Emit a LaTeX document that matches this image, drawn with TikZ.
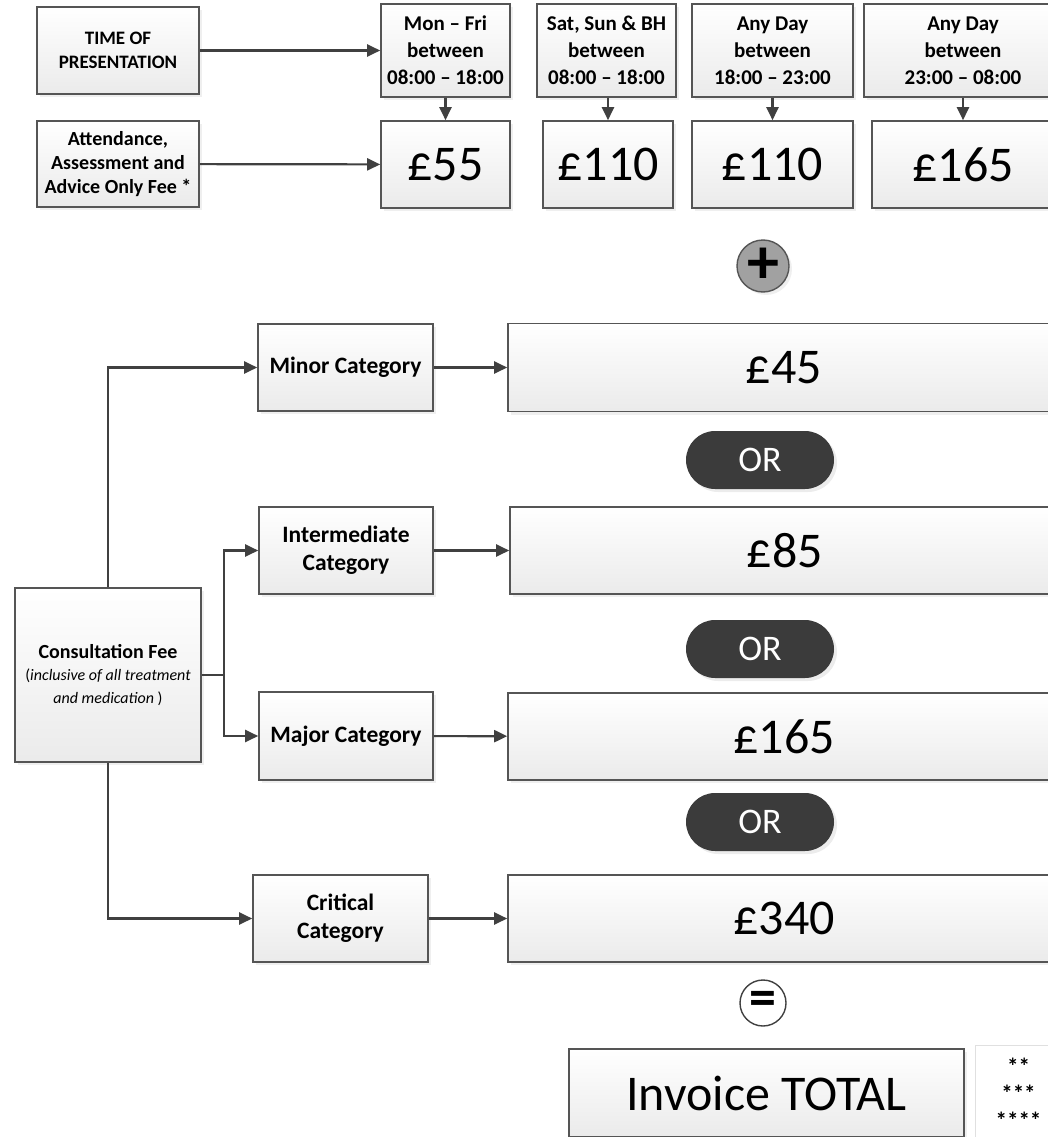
\documentclass[tikz,border=0pt]{standalone}
\usepackage{fontspec}
\setmainfont{Carlito}
\usetikzlibrary{arrows.meta,shadows}

\definecolor{edgegray}{HTML}{555555}
\definecolor{arrowgray}{HTML}{404040}
\definecolor{pilldark}{HTML}{3B3B3B}

\tikzset{
  feebox/.style={draw=edgegray, line width=1.6pt, top color=white, bottom color=black!8,
    drop shadow={shadow xshift=3pt, shadow yshift=-3pt, fill=black!12},
    align=center, inner sep=2pt},
  labelbox/.style={feebox, font=\fontsize{20}{24}\selectfont\bfseries},
  slotbox/.style={feebox, minimum height=93pt, font=\fontsize{21}{27}\selectfont\bfseries},
  catbox/.style={feebox, minimum width=175pt, minimum height=87pt, font=\fontsize{23.5}{28}\selectfont\bfseries},
  pricebox/.style={feebox, minimum height=87pt, font=\fontsize{50}{56}\selectfont},
  orpill/.style={fill=pilldark, rounded corners=29pt, minimum width=148pt, minimum height=58pt,
    text=white, font=\fontsize{36}{40}\selectfont,
    drop shadow={shadow xshift=3pt, shadow yshift=-3pt, fill=black!15}},
  link/.style={draw=arrowgray, line width=2.2pt, -{Triangle[length=13pt,width=12pt]}},
  wire/.style={draw=arrowgray, line width=2.2pt},
}

\begin{document}
\begin{tikzpicture}[x=1pt, y=-1pt]
\useasboundingbox (0,0) rectangle (1048,1137);

 % top rows
\node[labelbox, minimum width=162pt, minimum height=87pt, font=\fontsize{19}{24}\selectfont\bfseries] (time) at (118,50.5) {TIME OF\\PRESENTATION};
\node[labelbox, minimum width=162pt, minimum height=86pt] (attend) at (118,164) {Attendance,\\Assessment and\\Advice Only Fee *};

\node[slotbox, minimum width=129pt] (slot1) at (445.5,50.5) {Mon -- Fri\\between\\08:00 -- 18:00};
\node[slotbox, minimum width=139pt] (slot2) at (606.5,50.5) {Sat, Sun \& BH\\between\\08:00 -- 18:00};
\node[slotbox, minimum width=161pt] (slot3) at (772.5,50.5) {Any Day\\between\\18:00 -- 23:00};
\node[slotbox, minimum width=198pt] (slot4) at (963,50.5) {Any Day\\between\\23:00 -- 08:00};

\node[pricebox, minimum width=129pt] (fee1) at (445.5,164.5) {£55};
\node[pricebox, minimum width=130pt] (fee2) at (608,164.5) {£110};
\node[pricebox, minimum width=161pt] (fee3) at (772.5,164.5) {£110};
\node[pricebox, minimum width=182pt] (fee4) at (963,164.5) {£165};

\draw[link] (time) -- (slot1);
\draw[link] (attend) -- (fee1);
\foreach \i in {1,...,4}
  \draw[link] (fee\i.north |- slot\i.south) -- (fee\i.north);

 % plus
\node[circle, draw=edgegray, line width=1.4pt, fill=black!37, minimum size=52pt, inner sep=0pt,
  font=\fontsize{64}{64}\selectfont\bfseries,
  drop shadow={shadow xshift=3pt, shadow yshift=-3pt, fill=black!12}] (plus) at (763,266) {\raisebox{1pt}{+}};

 % consultation categories
\node[labelbox, minimum width=186pt, minimum height=174pt] (consult) at (108,675)
  {Consultation Fee\\[-2pt]{\fontsize{16}{22}\selectfont\mdseries(\itshape inclusive of all treatment}\\[-1pt]{\fontsize{16}{22}\selectfont\mdseries\itshape and medication \upshape)}};

\node[catbox] (minor) at (345.5,367.5) {Minor Category};
\node[catbox, minimum width=174pt] (inter) at (346,550.5) {Intermediate\\Category};
\node[catbox, minimum width=174pt, minimum height=88pt] (major) at (346,736) {Major Category};
\node[catbox] (critical) at (340.5,918.5) {Critical\\Category};

\node[pricebox, minimum width=552pt, minimum height=88pt] (p45) at (784,367.5) {£45};
\node[pricebox, minimum width=550pt] (p85) at (785,550.5) {£85};
\node[pricebox, minimum width=552pt] (p165) at (784,736.5) {£165};
\node[pricebox, minimum width=552pt] (p340) at (784,918.5) {£340};

\node[orpill] (or1) at (760,460) {OR};
\node[orpill] (or2) at (760,649) {OR};
\node[orpill] (or3) at (760,822) {OR};

\coordinate (split) at ([xshift=22pt]consult.east);
\draw[link] (consult.north) |- (minor.west);
\draw[link] (consult.south) |- (critical.west);
\draw[wire] (consult.east) -- (split);
\draw[link] (split) |- (inter.west);
\draw[link] (split) |- (major.west);

\draw[link] (minor) -- (p45);
\draw[link] (inter) -- (p85);
\draw[link] (major) -- (p165);
\draw[link] (critical) -- (p340);

 % total
\node[circle, draw=arrowgray, line width=1.4pt, fill=white, minimum size=46pt, inner sep=0pt,
  font=\fontsize{54}{54}\selectfont\bfseries] (equals) at (763,1003) {=};
\node[pricebox, minimum width=395pt, minimum height=88pt, drop shadow={opacity=0}] (total) at (766.5,1093) {Invoice TOTAL};
\node[draw=black!12, line width=1pt, minimum width=87pt, minimum height=100pt] (stars) at (1018.5,1095) {};
\node[align=center, font=\fontsize{23}{27}\selectfont\bfseries] (starstext) at (1018.5,1093) {**\\***\\****};
\end{tikzpicture}
\end{document}
